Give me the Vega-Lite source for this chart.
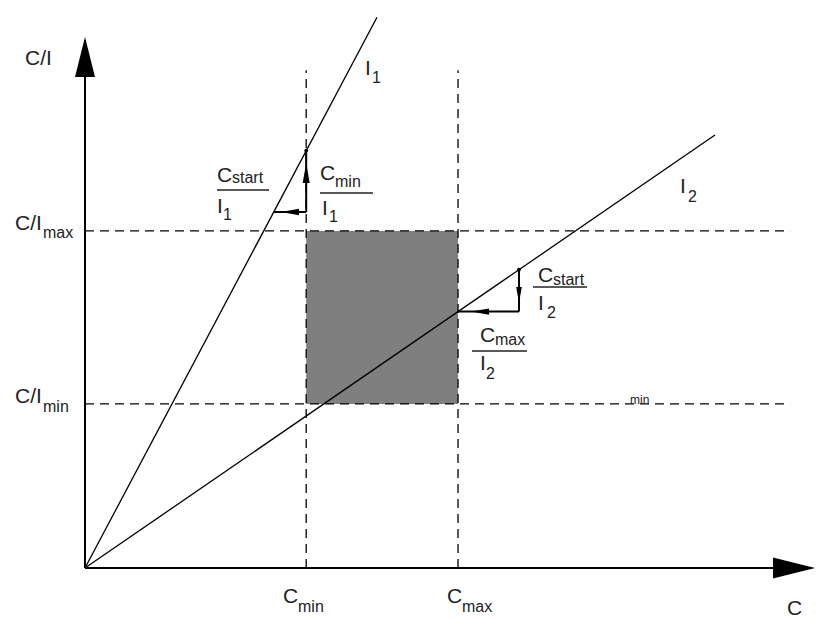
{
  "$schema": "https://vega.github.io/schema/vega-lite/v6.json",
  "width": 730,
  "height": 558,
  "autosize": {"type": "none"},
  "padding": {"left": 85, "top": 10, "right": 2, "bottom": 51},
  "background": "white",
  "config": {"view": {"stroke": null}},
  "datasets": {
    "box": [{"x": 30.3, "x2": 51.1, "y": 29.4, "y2": 60.4}],
    "dashed": [
      {"x": 30.3, "y": 0, "x2": 30.3, "y2": 89.2},
      {"x": 51.1, "y": 0, "x2": 51.1, "y2": 89.2},
      {"x": 0, "y": 60.4, "x2": 96.6, "y2": 60.4},
      {"x": 0, "y": 29.4, "x2": 96.6, "y2": 29.4}
    ],
    "thin": [
      {"x": 0, "y": 0, "x2": 40.0, "y2": 98.7},
      {"x": 0, "y": 0, "x2": 86.3, "y2": 77.6}
    ],
    "thick": [
      {"x": 0, "y": 0, "x2": 0, "y2": 94.6},
      {"x": 0, "y": 0, "x2": 99.6, "y2": 0},
      {"x": 30.3, "y": 63.8, "x2": 30.3, "y2": 74.8},
      {"x": 25.86, "y": 63.8, "x2": 30.3, "y2": 63.8},
      {"x": 59.45, "y": 53.46, "x2": 59.45, "y2": 45.95},
      {"x": 51.1, "y": 45.95, "x2": 59.45, "y2": 45.95}
    ],
    "bars": [
      {"x": 18.08, "y": 67.74, "x2": 25.21, "y2": 67.74},
      {"x": 32.19, "y": 67.2, "x2": 39.45, "y2": 67.2},
      {"x": 61.37, "y": 50.36, "x2": 68.77, "y2": 50.36},
      {"x": 53.01, "y": 38.89, "x2": 60.55, "y2": 38.89}
    ],
    "dots": [{"x": 30.3, "y": 74.8}, {"x": 59.45, "y": 53.46}],
    "yhead": [{"x": 0, "y": 91.58}],
    "xhead": [{"x": 97.12, "y": 0}],
    "uphead": [{"x": 30.3, "y": 70.79}],
    "downhead": [{"x": 59.45, "y": 48.92}],
    "lefthead": [{"x": 28.08, "y": 63.8}, {"x": 54.11, "y": 45.95}],
    "main": [
      {"t": "C/I", "x": -8.22, "y": 90.14},
      {"t": "C/I", "x": -9.59, "y": 60.57},
      {"t": "C/I", "x": -9.59, "y": 29.57},
      {"t": "C", "x": 27.12, "y": -6.27},
      {"t": "C", "x": 49.59, "y": -6.27},
      {"t": "C", "x": 96.16, "y": -8.42},
      {"t": "I", "x": 38.36, "y": 88.35},
      {"t": "I", "x": 81.51, "y": 67.2},
      {"t": "C", "x": 18.08, "y": 69.18},
      {"t": "I", "x": 18.08, "y": 63.62},
      {"t": "C", "x": 32.19, "y": 69.53},
      {"t": "I", "x": 32.47, "y": 63.26},
      {"t": "C", "x": 62.05, "y": 51.25},
      {"t": "I", "x": 62.05, "y": 46.24},
      {"t": "C", "x": 54.11, "y": 40.5},
      {"t": "I", "x": 54.11, "y": 35.48}
    ],
    "sub": [
      {"t": "max", "x": -5.75, "y": 59.14},
      {"t": "min", "x": -5.75, "y": 27.96},
      {"t": "min", "x": 29.18, "y": -7.89},
      {"t": "max", "x": 51.64, "y": -7.89},
      {"t": "1", "x": 39.32, "y": 86.92},
      {"t": "2", "x": 82.6, "y": 65.59},
      {"t": "start", "x": 20.14, "y": 69.0},
      {"t": "1", "x": 18.9, "y": 62.37},
      {"t": "min", "x": 34.25, "y": 68.28},
      {"t": "1", "x": 33.42, "y": 62.01},
      {"t": "start", "x": 64.11, "y": 50.72},
      {"t": "2", "x": 63.29, "y": 44.8},
      {"t": "max", "x": 56.16, "y": 39.96},
      {"t": "2", "x": 54.93, "y": 33.87}
    ],
    "tiny": [{"t": "min", "x": 74.66, "y": 29.39}]
  },
  "layer": [
    {
      "data": {"name": "box"},
      "mark": {"type": "rect", "color": "#7f7f7f", "clip": false},
      "encoding": {
        "x": {"field": "x", "type": "quantitative", "scale": {"domain": [0, 100], "nice": false, "zero": false}, "axis": null},
        "x2": {"field": "x2"},
        "y": {"field": "y", "type": "quantitative", "scale": {"domain": [0, 100], "nice": false, "zero": false}, "axis": null},
        "y2": {"field": "y2"}
      }
    },
    {
      "data": {"name": "dashed"},
      "mark": {"type": "rule", "color": "#000", "strokeWidth": 1.3, "strokeDash": [9, 6], "clip": false},
      "encoding": {
        "x": {"field": "x", "type": "quantitative", "axis": null},
        "x2": {"field": "x2"},
        "y": {"field": "y", "type": "quantitative", "axis": null},
        "y2": {"field": "y2"}
      }
    },
    {
      "data": {"name": "thin"},
      "mark": {"type": "rule", "color": "#000", "strokeWidth": 1.3, "clip": false},
      "encoding": {
        "x": {"field": "x", "type": "quantitative", "axis": null},
        "x2": {"field": "x2"},
        "y": {"field": "y", "type": "quantitative", "axis": null},
        "y2": {"field": "y2"}
      }
    },
    {
      "data": {"name": "thick"},
      "mark": {"type": "rule", "color": "#000", "strokeWidth": 2, "clip": false},
      "encoding": {
        "x": {"field": "x", "type": "quantitative", "axis": null},
        "x2": {"field": "x2"},
        "y": {"field": "y", "type": "quantitative", "axis": null},
        "y2": {"field": "y2"}
      }
    },
    {
      "data": {"name": "bars"},
      "mark": {"type": "rule", "color": "#222", "strokeWidth": 1.5, "clip": false},
      "encoding": {
        "x": {"field": "x", "type": "quantitative", "axis": null},
        "x2": {"field": "x2"},
        "y": {"field": "y", "type": "quantitative", "axis": null},
        "y2": {"field": "y2"}
      }
    },
    {
      "data": {"name": "dots"},
      "mark": {"type": "point", "shape": "circle", "filled": true, "color": "#000", "size": 14, "opacity": 1, "clip": false},
      "encoding": {
        "x": {"field": "x", "type": "quantitative", "axis": null},
        "y": {"field": "y", "type": "quantitative", "axis": null}
      }
    },
    {
      "data": {"name": "yhead"},
      "mark": {"type": "point", "shape": "M0,-1L0.5,1L-0.5,1Z", "filled": true, "color": "#000", "size": 1600, "opacity": 1, "clip": false},
      "encoding": {
        "x": {"field": "x", "type": "quantitative", "axis": null},
        "y": {"field": "y", "type": "quantitative", "axis": null}
      }
    },
    {
      "data": {"name": "xhead"},
      "mark": {"type": "point", "shape": "M1,0L-1,-0.5L-1,0.5Z", "filled": true, "color": "#000", "size": 1764, "opacity": 1, "clip": false},
      "encoding": {
        "x": {"field": "x", "type": "quantitative", "axis": null},
        "y": {"field": "y", "type": "quantitative", "axis": null}
      }
    },
    {
      "data": {"name": "uphead"},
      "mark": {"type": "point", "shape": "M0,-1L0.35,1L-0.35,1Z", "filled": true, "color": "#000", "size": 400, "opacity": 1, "clip": false},
      "encoding": {
        "x": {"field": "x", "type": "quantitative", "axis": null},
        "y": {"field": "y", "type": "quantitative", "axis": null}
      }
    },
    {
      "data": {"name": "downhead"},
      "mark": {"type": "point", "shape": "M0,1L0.35,-1L-0.35,-1Z", "filled": true, "color": "#000", "size": 256, "opacity": 1, "clip": false},
      "encoding": {
        "x": {"field": "x", "type": "quantitative", "axis": null},
        "y": {"field": "y", "type": "quantitative", "axis": null}
      }
    },
    {
      "data": {"name": "lefthead"},
      "mark": {"type": "point", "shape": "M-1,0L1,-0.35L1,0.35Z", "filled": true, "color": "#000", "size": 330, "opacity": 1, "clip": false},
      "encoding": {
        "x": {"field": "x", "type": "quantitative", "axis": null},
        "y": {"field": "y", "type": "quantitative", "axis": null}
      }
    },
    {
      "data": {"name": "main"},
      "mark": {"type": "text", "align": "left", "baseline": "alphabetic", "font": "Liberation Sans", "fontSize": 21, "color": "#222", "clip": false},
      "encoding": {
        "x": {"field": "x", "type": "quantitative", "axis": null},
        "y": {"field": "y", "type": "quantitative", "axis": null},
        "text": {"field": "t"}
      }
    },
    {
      "data": {"name": "sub"},
      "mark": {"type": "text", "align": "left", "baseline": "alphabetic", "font": "Liberation Sans", "fontSize": 16, "color": "#222", "clip": false},
      "encoding": {
        "x": {"field": "x", "type": "quantitative", "axis": null},
        "y": {"field": "y", "type": "quantitative", "axis": null},
        "text": {"field": "t"}
      }
    },
    {
      "data": {"name": "tiny"},
      "mark": {"type": "text", "align": "left", "baseline": "alphabetic", "font": "Liberation Sans", "fontSize": 12, "color": "#222", "clip": false},
      "encoding": {
        "x": {"field": "x", "type": "quantitative", "axis": null},
        "y": {"field": "y", "type": "quantitative", "axis": null},
        "text": {"field": "t"}
      }
    }
  ]
}
